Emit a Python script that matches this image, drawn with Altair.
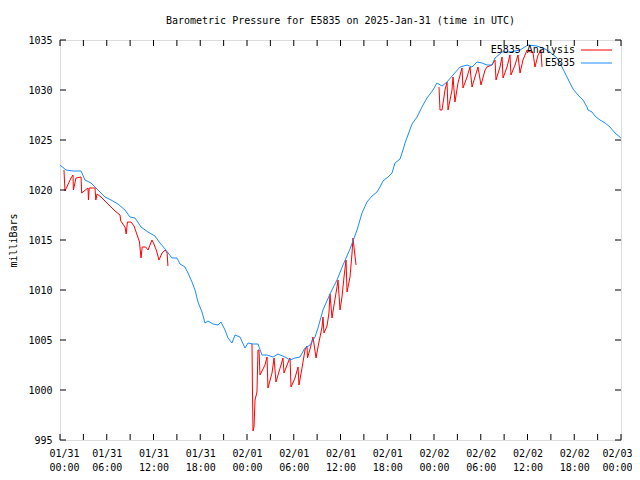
import altair as alt
import pandas as pd

# ---- data (hours since 2025-01-31 00:00 UTC, pressure in milliBars) ----
obs_hours = [0.0, 0.77, 1.67, 2.70, 3.21, 3.98, 4.88, 5.78, 6.55, 7.44, 8.34, 8.98, 9.63,
             10.40, 11.29, 12.19, 12.83, 13.48, 14.37, 15.02, 15.40, 16.04, 16.43, 16.94,
             17.33, 17.71, 18.22, 18.61, 18.99, 19.64, 20.28, 20.66, 21.18, 21.56, 22.07,
             22.46, 23.10, 23.74, 24.13, 24.77, 25.41, 25.92, 26.57, 27.34, 27.98, 28.88,
             29.52, 30.16, 30.80, 31.44, 32.09, 32.73, 33.11, 33.75, 34.65, 35.55, 36.32,
             37.22, 38.12, 38.76, 39.40, 40.04, 40.68, 41.07, 41.45, 42.10, 42.61, 42.99,
             43.64, 44.02, 44.28, 44.66, 45.18, 45.82, 46.59, 47.10, 47.87, 48.38, 49.03,
             49.67, 50.44, 51.34, 52.24, 52.88, 53.52, 54.16, 54.80, 55.44, 55.83, 56.73,
             57.75, 59.04, 60.06, 61.22, 62.25, 62.89, 63.79, 64.43, 65.07, 65.45, 65.84,
             66.48, 67.12, 67.64, 67.76, 68.28, 68.66, 69.30, 69.95, 70.59, 71.23, 72.0]
obs_mbar = [1022.5, 1022.0, 1021.9, 1021.9, 1021.0, 1020.7, 1020.0, 1019.3, 1019.0, 1018.6,
            1018.0, 1017.3, 1017.2, 1016.3, 1015.8, 1015.4, 1014.7, 1014.1, 1013.2, 1013.2,
            1012.6, 1012.3, 1011.7, 1010.8, 1010.0, 1008.8, 1007.8, 1006.7, 1006.9, 1006.6,
            1006.5, 1006.8, 1006.0, 1005.2, 1004.7, 1005.5, 1005.3, 1004.2, 1004.7, 1004.6,
            1004.6, 1003.5, 1003.5, 1003.3, 1003.6, 1003.3, 1003.0, 1003.2, 1003.3, 1004.2,
            1004.5, 1005.3, 1006.2, 1008.0, 1009.6, 1011.0, 1012.5, 1014.1, 1016.0, 1017.7,
            1018.8, 1019.4, 1019.8, 1020.3, 1020.9, 1021.3, 1021.7, 1022.7, 1023.1, 1024.0,
            1024.7, 1025.5, 1026.6, 1027.3, 1028.5, 1029.2, 1030.0, 1030.7, 1030.4, 1030.8,
            1031.5, 1032.3, 1032.5, 1032.3, 1032.8, 1032.7, 1032.5, 1032.5, 1033.2, 1033.8,
            1033.8, 1034.0, 1034.5, 1034.4, 1034.1, 1033.8, 1033.2, 1032.3, 1031.3, 1030.7,
            1030.1, 1029.5, 1029.0, 1028.3, 1028.0, 1027.8, 1027.4, 1027.0, 1026.7, 1026.3,
            1025.7, 1025.2]

ana1_hours = [0.51, 0.64, 1.41, 1.67, 1.72, 2.05, 2.70, 2.78, 3.59, 3.65, 3.75, 4.49, 4.60,
              4.75, 5.26, 6.16, 7.06, 7.70, 7.80, 8.34, 8.50, 8.65, 9.11, 9.50, 9.90, 10.20,
              10.40, 10.55, 11.0, 11.3, 11.8, 12.0, 12.4, 12.7, 13.1, 13.5, 13.75, 13.85]
ana1_mbar = [1022.0, 1019.9, 1021.2, 1021.5, 1020.0, 1021.2, 1021.3, 1019.7, 1020.2, 1019.0,
             1020.2, 1020.2, 1019.0, 1019.6, 1019.3, 1018.6, 1017.9, 1017.5, 1016.9, 1016.3,
             1015.6, 1016.8, 1016.8, 1016.4, 1015.5, 1014.8, 1013.2, 1014.3, 1014.3, 1014.0,
             1015.0, 1014.7, 1013.9, 1013.0, 1013.7, 1014.0, 1013.7, 1012.4]

ana2_hours = [24.64, 24.70, 24.77, 24.90, 25.03, 25.28, 25.41, 25.54, 25.67, 26.31, 26.57,
              26.69, 27.21, 27.47, 27.72, 28.36, 28.62, 28.75, 29.39, 29.52, 29.65, 30.16,
              30.55, 30.67, 31.06, 31.44, 31.70, 31.77, 32.09, 32.47, 32.86, 33.11, 33.63,
              33.75, 33.88, 34.27, 34.52, 34.65, 34.91, 35.17, 35.55, 35.68, 35.94, 36.19,
              36.45, 36.71, 36.84, 37.22, 37.48, 37.60, 37.99]
ana2_mbar = [1004.6, 1000.0, 995.9, 996.3, 999.0, 999.8, 1004.0, 1004.0, 1001.5, 1002.5,
             1003.3, 1000.2, 1001.7, 1003.2, 1000.8, 1002.5, 1003.2, 1001.7, 1003.0, 1003.2,
             1000.3, 1001.2, 1002.3, 1000.5, 1002.2, 1004.0, 1004.4, 1003.2, 1004.1, 1005.3,
             1003.2, 1004.3, 1006.3, 1007.3, 1005.7, 1006.4, 1007.7, 1009.6, 1007.2, 1008.5,
             1010.3, 1011.0, 1008.0, 1009.3, 1011.3, 1013.0, 1009.8, 1011.3, 1013.7, 1015.2,
             1012.5]

ana3_hours = [48.64, 48.77, 49.03, 49.41, 49.67, 49.80, 50.31, 50.44, 50.69, 51.08, 51.59,
              51.72, 52.24, 52.62, 52.88, 53.26, 53.65, 54.03, 54.55, 54.80, 55.44, 55.83,
              55.96, 56.47, 56.73, 56.86, 57.37, 57.75, 57.88, 58.40, 58.78, 59.04, 59.42,
              59.94, 60.32, 60.69, 60.96, 61.35, 61.73, 61.86]
ana3_mbar = [1030.3, 1028.0, 1028.0, 1030.0, 1030.8, 1028.0, 1030.0, 1031.3, 1028.8, 1030.7,
             1032.2, 1030.2, 1031.3, 1032.3, 1030.3, 1031.3, 1032.3, 1030.5, 1032.0, 1032.3,
             1032.5, 1033.0, 1031.0, 1032.3, 1033.3, 1031.2, 1032.3, 1033.5, 1031.5, 1032.5,
             1033.5, 1031.7, 1033.0, 1034.0, 1033.8, 1033.8, 1032.3, 1033.5, 1034.0, 1032.3]

series_names = ["E5835 Analysis", "E5835"]
series_colors = ["#ff0000", "#1a8cff"]
x_ticks = list(range(0, 73, 3))
y_ticks = list(range(995, 1036, 5))
title_text = "Barometric Pressure for E5835 on 2025-Jan-31 (time in UTC)"
y_title = "milliBars"

FONT = "DejaVu Sans Mono"
W, H, TICK = 561, 400, 6

obs = pd.DataFrame({"h": obs_hours, "p": obs_mbar})
obs["i"] = range(len(obs))
ana_parts = []
for k, (hs, ps) in enumerate([(ana1_hours, ana1_mbar), (ana2_hours, ana2_mbar), (ana3_hours, ana3_mbar)]):
    d = pd.DataFrame({"h": hs, "p": ps})
    d["seg"] = k
    ana_parts.append(d)
ana = pd.concat(ana_parts, ignore_index=True)
ana["i"] = range(len(ana))
xt = pd.DataFrame({"h": x_ticks})
yt = pd.DataFrame({"p": y_ticks})

xscale = alt.Scale(domain=[0, 72], nice=False, zero=False)
yscale = alt.Scale(domain=[995, 1035], nice=False, zero=False)

t0 = "utc(2025,0,31) + datum.value*3600000"
label_expr = (f"datum.value % 6 == 0 ? [utcFormat({t0}, '%m/%d'), utcFormat({t0}, '%H:%M')] : ''")

common_axis = dict(domain=False, grid=False, ticks=False, labelFont=FONT, labelFontSize=10,
                   labelColor="black", titleFont=FONT, titleFontSize=10,
                   titleFontWeight="normal", titleColor="black")

ax_bottom = alt.Axis(orient="bottom", values=x_ticks, labelExpr=label_expr, labelPadding=8,
                     labelLineHeight=14, labelAngle=0, labelOverlap=False, labelFlush=1,
                     labelFlushOffset=11, title=None, **common_axis)
ax_left = alt.Axis(orient="left", values=y_ticks, format="d", labelPadding=8,
                   labelOverlap=False, labelFlush=False, title=y_title, titlePadding=9,
                   **common_axis)

red = alt.Chart(ana).mark_line(color=series_colors[0], strokeWidth=1, clip=True).encode(
    x=alt.X("h:Q", scale=xscale, axis=ax_bottom),
    y=alt.Y("p:Q", scale=yscale, axis=ax_left),
    detail="seg:N",
    order="i:Q",
)
blue = alt.Chart(obs).mark_line(color=series_colors[1], strokeWidth=1, clip=True).encode(
    x=alt.X("h:Q", scale=xscale),
    y=alt.Y("p:Q", scale=yscale),
    order="i:Q",
)

# inward tick marks on all four sides (gnuplot style, mirrored)
tick_layers = [
    alt.Chart(xt).mark_rule(color="black", strokeWidth=1).encode(
        x=alt.X("h:Q", scale=xscale), y=alt.value(H), y2=alt.value(H - TICK)),
    alt.Chart(xt).mark_rule(color="black", strokeWidth=1).encode(
        x=alt.X("h:Q", scale=xscale), y=alt.value(0), y2=alt.value(TICK)),
    alt.Chart(yt).mark_rule(color="black", strokeWidth=1).encode(
        y=alt.Y("p:Q", scale=yscale), x=alt.value(0), x2=alt.value(TICK)),
    alt.Chart(yt).mark_rule(color="black", strokeWidth=1).encode(
        y=alt.Y("p:Q", scale=yscale), x=alt.value(W - TICK), x2=alt.value(W)),
]

leg_layers = []
for k, (name, col) in enumerate(zip(series_names, series_colors)):
    yy = 10 + 13 * k
    txt = alt.Chart(pd.DataFrame({"name": [name]})).mark_text(
        align="right", baseline="middle", font=FONT, fontSize=10, color="black"
    ).encode(x=alt.value(515), y=alt.value(yy), text="name:N")
    rl = alt.Chart(pd.DataFrame({"name": [name]})).mark_rule(color=col, strokeWidth=1).encode(
        x=alt.value(521), x2=alt.value(552), y=alt.value(yy)
    )
    leg_layers += [txt, rl]

chart = alt.layer(red, blue, *tick_layers, *leg_layers).properties(
    width=W, height=H,
    title=alt.TitleParams(text=title_text, font=FONT, fontSize=10, fontWeight="normal",
                          anchor="middle", frame="group", offset=9, color="black"),
    autosize=alt.AutoSizeParams(type="none"),
    padding={"left": 52, "top": 32, "right": 11, "bottom": 32},
).configure_view(stroke="black", strokeWidth=1).configure(background="white")

chart.save("out.html", embed_options={"renderer": "svg", "actions": False})
